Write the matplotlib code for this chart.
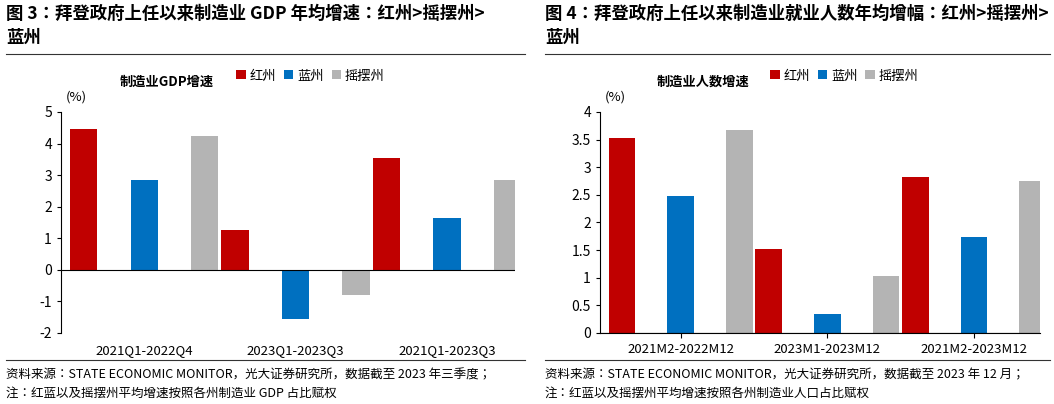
import matplotlib
matplotlib.use("Agg")
import matplotlib.pyplot as plt
from matplotlib import font_manager
import numpy as np

cjk = [f.name for f in font_manager.fontManager.ttflist if 'CJK' in f.name]
pref = [n for n in ["Noto Sans CJK SC", "Noto Sans CJK JP", "Noto Sans CJK TC", "Noto Sans CJK KR"] if n in cjk]
plt.rcParams['font.family'] = (pref or cjk[:1]) + ['DejaVu Sans']

series = ["红州", "蓝州", "摇摆州"]
colors = ["#C00000", "#0070C0", "#B4B4B4"]
cats1 = ["2021Q1-2022Q4", "2023Q1-2023Q3", "2021Q1-2023Q3"]
vals1 = [[4.45, 1.25, 3.55], [2.85, -1.55, 1.65], [4.25, -0.8, 2.85]]
cats2 = ["2021M2-2022M12", "2023M1-2023M12", "2021M2-2023M12"]
vals2 = [[3.53, 1.52, 2.82], [2.48, 0.35, 1.73], [3.68, 1.03, 2.76]]

W, H = 1054, 404
fig = plt.figure(figsize=(W/100, H/100), dpi=100)

def panel(x0, x1, title1, title2, ltitle, cats, vals, ylim, yticks, ytl, foot1, foot2):
    fig.text(x0/W, 1-14/H, title1, fontsize=12.5, fontweight='bold', va='center')
    fig.text(x0/W, 1-38/H, title2, fontsize=12.5, fontweight='bold', va='center')
    fig.add_artist(plt.Line2D([x0/W, x1/W], [1-54/H]*2, color='#333333', lw=0.8))
    fig.add_artist(plt.Line2D([x0/W, x1/W], [1-360/H]*2, color='#333333', lw=0.8))
    fig.text(x0/W, 1-375/H, foot1, fontsize=9, va='center')
    fig.text(x0/W, 1-393/H, foot2, fontsize=9, va='center')
    ax = fig.add_axes([(x0+55)/W, 1-333/H, (x1-x0-65)/W, (333-112)/H])
    x = np.arange(len(cats))
    for i, (s, c) in enumerate(zip(series, colors)):
        ax.bar(x + (i-1)*0.4, vals[i], 0.18, color=c, label=s)
    ax.set_xlim(-0.55, 2.45)
    ax.set_ylim(*ylim)
    ax.set_yticks(yticks)
    ax.set_yticklabels(ytl, fontsize=10)
    ax.set_xticks(x)
    ax.set_xticklabels(cats, fontsize=9.5)
    for sp in ['top', 'right']:
        ax.spines[sp].set_visible(False)
    ax.axhline(0, color='black', lw=0.8)
    if ylim[0] < 0:
        ax.spines['bottom'].set_visible(False)
        ax.tick_params(axis='x', length=0, pad=8)
    ax.tick_params(axis='y', length=3)
    ax.text(0.01, 1.04, "(%)", transform=ax.transAxes, fontsize=9.5, va='bottom')
    ax.legend(loc='lower left', bbox_to_anchor=(0.36, 1.08), ncol=3, frameon=False,
              fontsize=9.5, handlelength=0.7, handleheight=0.7, columnspacing=0.6, handletextpad=0.3)
    ax.text(0.13, 1.135, ltitle, transform=ax.transAxes, fontsize=9.5, fontweight='bold', va='center')

panel(6, 525, "图 3：拜登政府上任以来制造业 GDP 年均增速：红州>摇摆州>", "蓝州", "制造业GDP增速",
      cats1, vals1, (-2, 5), range(-2, 6), [str(v) for v in range(-2, 6)],
      "资料来源：STATE ECONOMIC MONITOR，光大证券研究所，数据截至 2023 年三季度；",
      "注：红蓝以及摇摆州平均增速按照各州制造业 GDP 占比赋权")
panel(545, 1050, "图 4：拜登政府上任以来制造业就业人数年均增幅：红州>摇摆州>", "蓝州", "制造业人数增速",
      cats2, vals2, (0, 4), np.arange(0, 4.01, 0.5), ["0", "0.5", "1", "1.5", "2", "2.5", "3", "3.5", "4"],
      "资料来源：STATE ECONOMIC MONITOR，光大证券研究所，数据截至 2023 年 12 月；",
      "注：红蓝以及摇摆州平均增速按照各州制造业人口占比赋权")

fig.savefig("out.png", dpi=100)
